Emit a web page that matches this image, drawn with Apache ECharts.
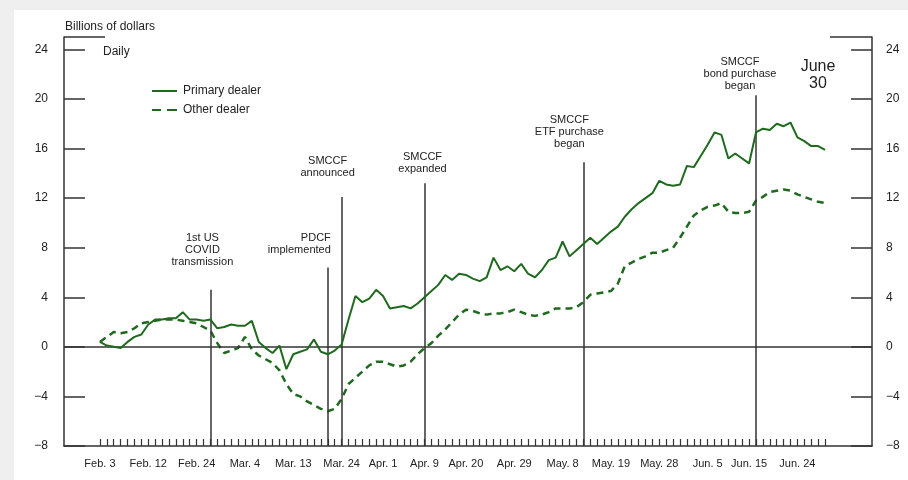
<!DOCTYPE html>
<html>
<head>
<meta charset="utf-8">
<script src="https://cdn.jsdelivr.net/npm/echarts@6/dist/echarts.min.js"></script>
<style>
  html, body { margin: 0; padding: 0; background: #ffffff; }
  #chart { width: 908px; height: 480px; }
</style>
</head>
<body>
<div id="chart"></div>
<script>
// Business-day index of each labelled tick (0 = Feb. 3, last point = June 30)
const tickLabelIndex = [0, 7, 14, 21, 28, 35, 41, 47, 53, 60, 67, 74, 81, 88, 94, 101];
const tickLabels = ['Feb. 3', 'Feb. 12', 'Feb. 24', 'Mar. 4', 'Mar. 13', 'Mar. 24', 'Apr. 1', 'Apr. 9',
  'Apr. 20', 'Apr. 29', 'May. 8', 'May. 19', 'May. 28', 'Jun. 5', 'Jun. 15', 'Jun. 24'];
const dayCount = 106;

// Daily positions, billions of dollars
const primaryDealer = [
  0.4, 0.1, 0.0, -0.1, 0.4, 0.8, 1.0, 1.8, 2.2, 2.2,
  2.3, 2.3, 2.8, 2.2, 2.2, 2.1, 2.2, 1.5, 1.6, 1.8,
  1.7, 1.7, 2.1, 0.4, -0.1, -0.5, 0.1, -1.8, -0.6, -0.4,
  -0.2, 0.6, -0.4, -0.6, -0.3, 0.2, 2.2, 4.1, 3.6, 3.9,
  4.6, 4.1, 3.1, 3.2, 3.3, 3.1, 3.5, 4.0, 4.5, 5.0,
  5.8, 5.4, 5.9, 5.8, 5.5, 5.3, 5.6, 7.2, 6.2, 6.5,
  6.1, 6.7, 5.9, 5.6, 6.2, 7.0, 7.2, 8.5, 7.3, 7.8,
  8.3, 8.8, 8.3, 8.8, 9.3, 9.7, 10.5, 11.1, 11.6, 12.0,
  12.4, 13.4, 13.1, 13.0, 13.1, 14.6, 14.5, 15.4, 16.3, 17.3,
  17.1, 15.2, 15.6, 15.2, 14.8, 17.3, 17.6, 17.5, 18.0, 17.8,
  18.1, 16.9, 16.6, 16.2, 16.2, 15.9
];
const otherDealer = [
  0.4, 0.8, 1.2, 1.1, 1.2, 1.5, 1.9, 2.0, 2.1, 2.2,
  2.2, 2.2, 2.1, 2.0, 1.9, 1.6, 1.3, 0.3, -0.5, -0.3,
  -0.1, 0.8, -0.2, -0.7, -1.0, -1.3, -1.9, -3.0, -3.8, -4.0,
  -4.4, -4.7, -5.0, -5.2, -5.0, -4.2, -3.0, -2.5, -2.0, -1.5,
  -1.2, -1.2, -1.4, -1.6, -1.5, -1.2, -0.6, -0.1, 0.3, 0.9,
  1.4, 2.0, 2.6, 3.0, 2.9, 2.7, 2.6, 2.7, 2.7, 2.8,
  3.0, 2.8, 2.6, 2.5, 2.6, 2.8, 3.1, 3.1, 3.1, 3.2,
  3.6, 4.2, 4.3, 4.4, 4.5, 5.1, 6.5, 6.8, 7.1, 7.3,
  7.6, 7.6, 7.8, 8.0, 8.8, 9.7, 10.6, 11.0, 11.3, 11.4,
  11.6, 10.9, 10.8, 10.8, 10.9, 11.8, 12.1, 12.5, 12.6, 12.7,
  12.6, 12.3, 12.1, 11.9, 11.7, 11.6
];

const yTicks = [-8, -4, 0, 4, 8, 12, 16, 20, 24];

// Policy events (business-day index) and their captions
const eventIndex = [16, 33, 35, 47, 70, 95];
const eventLabels = [
  ['1st US', 'COVID', 'transmission'],
  ['PDCF', 'implemented'],
  ['SMCCF', 'announced'],
  ['SMCCF', 'expanded'],
  ['SMCCF', 'ETF purchase', 'began'],
  ['SMCCF', 'bond purchase', 'began']
];

// ---- presentation ----
const FONT = '"Liberation Sans", Arial, Helvetica, sans-serif';
const INK = '#222222';
const GREEN = '#1f6a1f';
const GRID = { left: 64, right: 36, top: 37, bottom: 34 };
const X_MIN = -5.2, X_MAX = 111.8, Y_MIN = -8, Y_MAX = 25;

// stem top (value) and caption placement for each event
const eventLayout = [
  { stemTop: 4.6, dx: -8, y: 232, align: 'center' },
  { stemTop: 6.4, dx: 3, y: 232, align: 'right' },
  { stemTop: 12.1, dx: -14, y: 155, align: 'center' },
  { stemTop: 13.2, dx: -2, y: 151, align: 'center' },
  { stemTop: 14.9, dx: -14, y: 114, align: 'center' },
  { stemTop: 20.3, dx: -16, y: 56, align: 'center' }
];

// legend keys: a solid bar and a two-dash bar
const SOLID_KEY = 'path://M0,0h25v2h-25z';
const DASH_KEY = 'path://M0,0h9v2h-9zM15,0h10v2h-10z';

const dayTicks = [];
for (let i = 0; i < dayCount; i++) dayTicks.push(i);
const labelOf = {};
tickLabelIndex.forEach((d, k) => { labelOf[d] = tickLabels[k]; });

const toPairs = arr => arr.map((v, i) => [i, v]);
const fmtY = v => (v < 0 ? '\u2212' + Math.abs(v) : String(v));

const yAxisBase = {
  type: 'value', min: Y_MIN, max: Y_MAX,
  axisLine: { show: true, onZero: false, lineStyle: { color: '#333', width: 1.5 } },
  axisTick: { show: true, inside: true, length: 21, customValues: yTicks, lineStyle: { color: '#333', width: 1.5 } },
  axisLabel: { customValues: yTicks, formatter: fmtY, color: INK, fontFamily: FONT, fontSize: 12 },
  splitLine: { show: false }
};

const chart = echarts.init(document.getElementById('chart'), null, { renderer: 'canvas' });

const eventLines = eventIndex.map((d, k) => [
  { coord: [d, eventLayout[k].stemTop] },
  { coord: [d, Y_MIN] }
]);

chart.setOption({
  backgroundColor: '#ffffff',
  animation: false,
  grid: { left: GRID.left, right: GRID.right, top: GRID.top, bottom: GRID.bottom },
  legend: {
    orient: 'vertical', left: 147, top: 79, itemWidth: 25, itemHeight: 2, itemGap: 5,
    textStyle: { color: INK, fontFamily: FONT, fontSize: 12, padding: [0, 0, 0, 1], lineHeight: 14 },
    data: [
      { name: 'Primary dealer', icon: SOLID_KEY, itemStyle: { color: GREEN } },
      { name: 'Other dealer', icon: DASH_KEY, itemStyle: { color: GREEN } }
    ]
  },
  xAxis: {
    type: 'value', min: X_MIN, max: X_MAX,
    axisLine: { show: true, onZero: false, lineStyle: { color: '#333', width: 1.5 } },
    axisTick: { show: true, inside: true, length: 7, customValues: dayTicks, lineStyle: { color: '#333', width: 1.2 } },
    axisLabel: {
      customValues: tickLabelIndex, formatter: v => labelOf[v] || '',
      color: INK, fontFamily: FONT, fontSize: 11, margin: 12
    },
    splitLine: { show: false }
  },
  yAxis: [
    Object.assign({ position: 'left' }, yAxisBase, { axisLabel: Object.assign({}, yAxisBase.axisLabel, { margin: 16 }) }),
    Object.assign({ position: 'right' }, yAxisBase, { axisLabel: Object.assign({}, yAxisBase.axisLabel, { margin: 14 }) })
  ],
  series: [
    {
      name: 'Primary dealer', type: 'line', data: toPairs(primaryDealer),
      symbol: 'none', lineStyle: { color: GREEN, width: 2 }, itemStyle: { color: GREEN }, z: 5,
      markLine: {
        silent: true, symbol: 'none', animation: false,
        label: { show: false },
        lineStyle: { color: '#333', width: 1.5, type: 'solid' },
        data: [[{ coord: [X_MIN, 0] }, { coord: [X_MAX, 0] }]].concat(eventLines)
      }
    },
    {
      name: 'Other dealer', type: 'line', data: toPairs(otherDealer),
      symbol: 'none', lineStyle: { color: GREEN, width: 2.5, type: [7, 5] }, itemStyle: { color: GREEN }, z: 4
    }
  ]
});

// Frame caps, titles and event captions
function drawText() {
  const gLeft = GRID.left, gRight = 908 - GRID.right, gTop = GRID.top;
  const elements = [
    { type: 'line', shape: { x1: gLeft, y1: gTop, x2: gLeft + 41, y2: gTop }, style: { stroke: '#333', lineWidth: 1.5 } },
    { type: 'line', shape: { x1: gRight - 42, y1: gTop, x2: gRight, y2: gTop }, style: { stroke: '#333', lineWidth: 1.5 } },
    { type: 'rect', shape: { x: 0, y: 0, width: 908, height: 10 }, style: { fill: '#efefef' }, z: -10 },
    { type: 'rect', shape: { x: 0, y: 0, width: 14, height: 480 }, style: { fill: '#efefef' }, z: -10 },
    { type: 'text', style: { text: 'Billions of dollars', x: 65, y: 27, textVerticalAlign: 'middle', font: '12px ' + FONT, fill: INK } },
    { type: 'text', style: { text: 'Daily', x: 103, y: 52, textVerticalAlign: 'middle', font: '12px ' + FONT, fill: INK } },
    { type: 'text', style: { text: 'June\n30', x: 818, y: 58, textAlign: 'center', textVerticalAlign: 'top', font: '16px ' + FONT, lineHeight: 17, fill: INK } }
  ];
  eventIndex.forEach((d, k) => {
    const lay = eventLayout[k];
    const px = chart.convertToPixel({ xAxisIndex: 0 }, d);
    elements.push({
      type: 'text',
      style: {
        text: eventLabels[k].join('\n'), x: px + lay.dx, y: lay.y,
        textAlign: lay.align, textVerticalAlign: 'top',
        font: '11px ' + FONT, lineHeight: 12, fill: INK
      }
    });
  });
  chart.setOption({ graphic: { elements: elements } });
}
drawText();
</script>
</body>
</html>
